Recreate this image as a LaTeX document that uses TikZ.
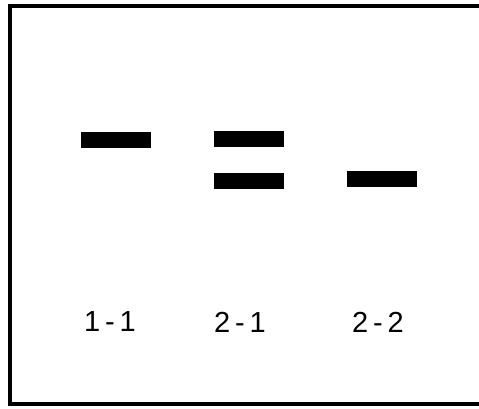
\documentclass[tikz,border=0pt]{standalone}
\usepackage{fontspec}
\setmainfont{Liberation Sans}
\usetikzlibrary{positioning}

\begin{document}
\begin{tikzpicture}[x=1pt, y=-1pt, band/.style={fill=black, inner sep=0pt, minimum width=70pt, minimum height=16pt}, lane/.style={inner sep=0pt, font=\fontsize{29}{30}\selectfont}, frame/.style={line width=4pt}]
\useasboundingbox (0,0) rectangle (479,408);
% gel frame (right side runs off the picture)
\coordinate (tr) at (479,6);
\coordinate (tl) at (10,6);
\coordinate (bl) at (10,404);
\coordinate (br) at (479,404);
\draw [frame] (tr) -- (tl) -- (bl) -- (br);

% bands
\node (b11) [band] at (116,139.5) {};
\node (b21a) [band] at (248.5,138.5) {};
\node (b21b) [band] at (248.5,180.5) {};
\node (b22) [band] at (381.5,179) {};

% lane labels
\node (l11) [lane] at (110,322) {1\,-\,1};
\node (l21) [lane] at (240,322) {2\,-\,1};
\node (l22) [lane] at (378,322) {2\,-\,2};
\end{tikzpicture}
\end{document}
